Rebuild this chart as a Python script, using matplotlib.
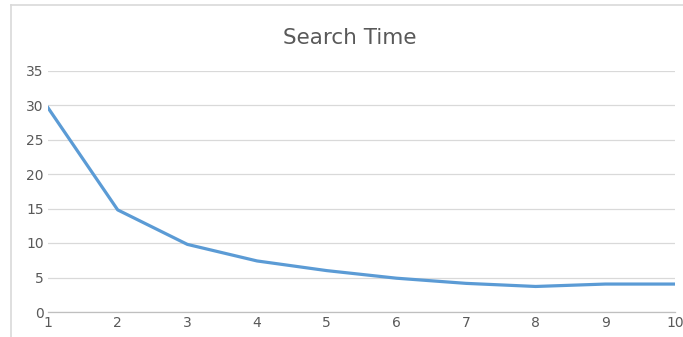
import matplotlib
matplotlib.use("Agg")
import matplotlib.pyplot as plt
from matplotlib.lines import Line2D

runs = [1, 2, 3, 4, 5, 6, 7, 8, 9, 10]
search_time = [29.6, 14.8, 9.8, 7.4, 6.0, 4.9, 4.15, 3.7, 4.05, 4.05]
y_ticks = [0, 5, 10, 15, 20, 25, 30, 35]

W, H = 683, 337
fig = plt.figure(figsize=(W / 100, H / 100), dpi=100)
fig.patch.set_facecolor("white")

# chart frame (left and top edges visible)
fig.add_artist(Line2D([10.5 / W, 10.5 / W], [0, 1 - 5 / H], color="#d9d9d9", lw=1.2))
fig.add_artist(Line2D([10.5 / W, 1], [1 - 5 / H, 1 - 5 / H], color="#d9d9d9", lw=1.2))

ax = fig.add_axes([48 / W, 25 / H, (675 - 48) / W, (312 - 70.5) / H])
ax.plot(runs, search_time, color="#5b9bd5", lw=2.3, solid_joinstyle="round")

ax.set_xlim(1, 10)
ax.set_ylim(0, 35)
ax.set_xticks(runs)
ax.set_yticks(y_ticks)
ax.grid(axis="y", color="#d9d9d9", lw=0.9)
ax.set_axisbelow(True)
for s in ["top", "right", "left"]:
    ax.spines[s].set_visible(False)
ax.spines["bottom"].set_color("#bfbfbf")
ax.spines["bottom"].set_linewidth(0.9)
ax.tick_params(axis="both", length=0, labelsize=10, labelcolor="#595959")
ax.tick_params(axis="y", pad=3)
ax.tick_params(axis="x", pad=3)

fig.text(350 / W, 1 - 38 / H, "Search Time", ha="center", va="center",
         fontsize=15.5, color="#595959")

fig.savefig("out.png", dpi=100)
